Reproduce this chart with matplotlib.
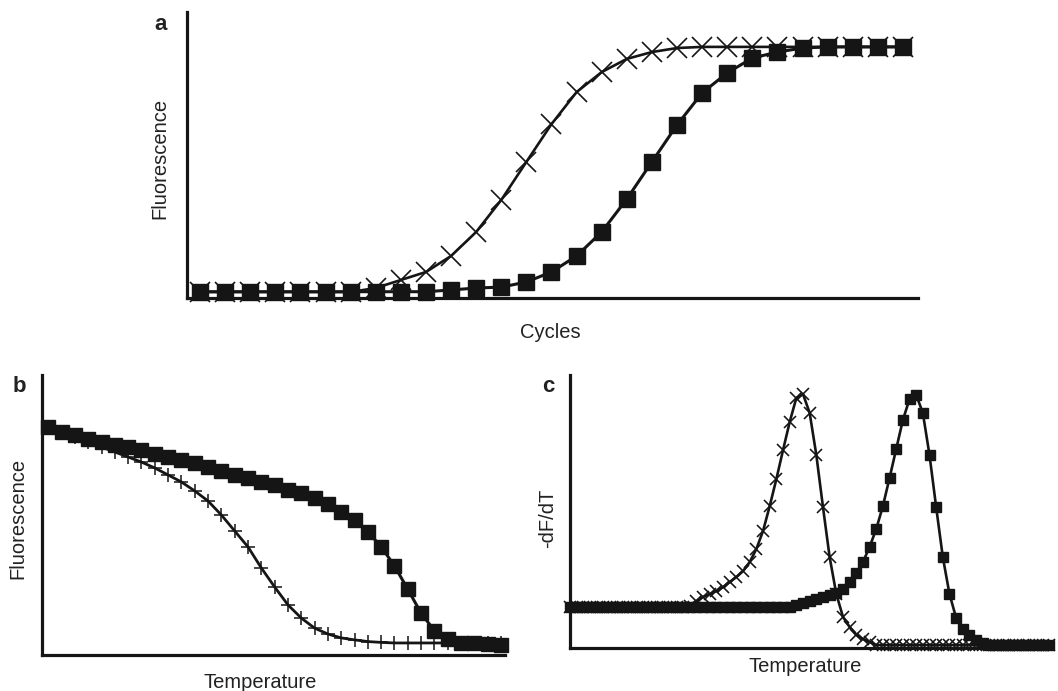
import numpy as np
import matplotlib
matplotlib.use("Agg")
import matplotlib.pyplot as plt

plt.rcParams['font.family'] = ['Liberation Sans', 'DejaVu Sans']

INK = '#151515'

# a: amplification curves, fluorescence per cycle (arbitrary units)
cycles = np.arange(29)
amp_early = [2.1] * 7 + [3.5, 6.3, 9.1, 14.7, 23.1, 34.3, 47.6, 60.8, 72.0,
                         79.0, 83.6, 86.0, 87.4] + [87.8] * 9
amp_late = [2.2] * 10 + [2.8, 3.5, 3.8, 5.6, 9.1, 14.7, 23.1, 34.6, 47.6,
                         60.5, 71.7, 78.7, 83.9, 86.0, 87.4] + [87.8] * 4

# b: melting curves, fluorescence per temperature step
melt_steps = np.arange(35)
melt_low = [81.25, 79.5, 77.9, 76.1, 74.3, 72.5, 70.7, 68.9, 66.8, 64.3,
            61.8, 58.6, 55.0, 50.0, 44.3, 38.6, 31.1, 24.3, 17.9, 13.2,
            9.6, 7.5, 6.1, 5.4, 4.8, 4.5] + [4.3] * 9
melt_high = [81.5, 79.75, 78.4, 77.3, 76.2, 75.0, 74.2, 73.1, 71.8, 70.6,
             69.5, 68.5, 67.25, 65.8, 64.3, 63.1, 61.9, 60.7, 58.9, 57.75,
             56.0, 53.9, 51.2, 48.2, 44.0, 38.7, 31.8, 23.5, 14.9, 8.7,
             5.6, 4.4, 4.2, 3.8, 3.6]

# c: derivative melting peaks (-dF/dT)
deriv_steps = np.arange(73)
deriv_low = [15.0] * 18 + [15.4, 17.2, 18.7, 19.8, 20.9, 22.3, 24.2, 26.0,
                           28.2, 31.5, 36.3, 42.9, 52.0, 61.9, 72.5, 82.8,
                           91.6, 93.0, 86.1, 70.7, 51.6, 33.3, 19.8, 11.4,
                           7.7, 4.8, 3.3, 2.2] + [1.1] * 27
deriv_high = [15.0] * 34 + [15.75, 16.5, 17.2, 17.9, 18.7, 19.4, 20.3, 21.6,
                            24.2, 27.5, 31.5, 37.0, 43.6, 52.0, 62.3, 72.9,
                            83.5, 91.2, 92.7, 86.1, 70.7, 51.6, 33.3, 19.8,
                            11.0, 7.0, 4.8, 2.9, 1.8] + [1.1] * 10

W, H = 1058, 691
fig = plt.figure(figsize=(W / 100, H / 100), dpi=100)


def px_axes(x0, y0, x1, y1):
    """Axes from pixel box (left, top, right, bottom)."""
    return fig.add_axes([x0 / W, (H - y1) / H, (x1 - x0) / W, (y1 - y0) / H])


def style(ax):
    for side in ('top', 'right'):
        ax.spines[side].set_visible(False)
    for side in ('left', 'bottom'):
        ax.spines[side].set_linewidth(2.3)
        ax.spines[side].set_color(INK)
    ax.set_xticks([])
    ax.set_yticks([])
    ax.set_ylim(0, 100)


def label(x, y, s, **kw):
    fig.text(x / W, 1 - y / H, s, ha='center', va='center', color='#222222', **kw)


# panel a
ax_a = px_axes(187, 12, 918, 298)
style(ax_a)
ax_a.plot(cycles, amp_early, color=INK, lw=1.9, marker='x', ms=14, mew=1.2,
          clip_on=False, zorder=3)
ax_a.plot(cycles, amp_late, color=INK, lw=2.2, marker='s', ms=11.5,
          clip_on=False, zorder=4)
ax_a.set_xlim(-0.52, 28.6)

# panel b
ax_b = px_axes(42, 375, 505, 655)
style(ax_b)
ax_b.plot(melt_steps, melt_low, color=INK, lw=2.0, marker='+', ms=10, mew=1.1,
          clip_on=False, zorder=3)
ax_b.plot(melt_steps, melt_high, color=INK, lw=2.2, marker='s', ms=9.5,
          clip_on=False, zorder=4)
ax_b.set_xlim(-0.47, 34.3)

# panel c
ax_c = px_axes(570, 375, 1052, 648)
style(ax_c)
ax_c.plot(deriv_steps, deriv_low, color=INK, lw=1.9, marker='x', ms=9, mew=1.15,
          clip_on=False, zorder=3)
ax_c.plot(deriv_steps, deriv_high, color=INK, lw=1.9, marker='s', ms=6.5,
          clip_on=False, zorder=4)
ax_c.set_xlim(0, 72.4)

# panel letters and axis titles
for x, y, s in [(161, 24, 'a'), (19, 386, 'b'), (548, 387, 'c')]:
    label(x, y, s, fontsize=16, fontweight='bold')

label(160, 158, 'Fluorescence', fontsize=14.5, rotation=90)
label(550, 333, 'Cycles', fontsize=14.5)
label(18, 518, 'Fluorescence', fontsize=14.5, rotation=90)
label(260, 682, 'Temperature', fontsize=14.5)
label(548, 518, '-dF/dT', fontsize=14.5, rotation=90)
label(805, 667, 'Temperature', fontsize=14.5)

fig.savefig('out.png', dpi=100, facecolor='white')
